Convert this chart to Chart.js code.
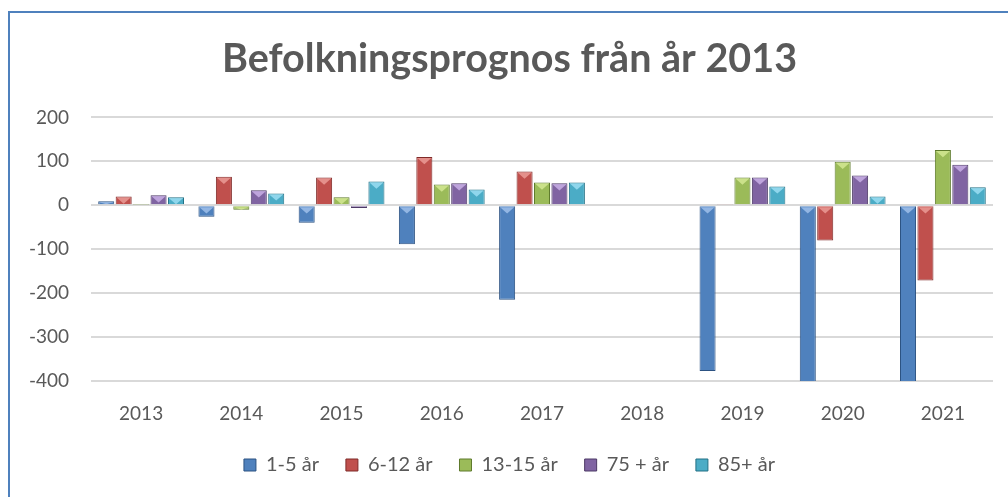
<!DOCTYPE html>
<html>
<head>
<meta charset="utf-8">
<script src="https://cdn.jsdelivr.net/npm/chart.js@4/dist/chart.umd.min.js"></script>
<style>
    html, body { margin: 0; padding: 0; background: #fff; }
    #wrap { position: relative; width: 1008px; height: 497px; overflow: hidden; }
    #frame {
        position: absolute; left: 8px; top: 11px; width: 1100px; height: 600px;
        border-left: 2px solid #4F81BD; border-top: 2px solid #4F81BD;
    }
    canvas { position: absolute; left: 0; top: 0; }
</style>
</head>
<body>
<div id="wrap">
    <div id="frame"></div>
    <canvas id="chart" width="1040" height="497"></canvas>
</div>
<script>
// =============================================================
// DATA
// =============================================================
const years     = ["2013", "2014", "2015", "2016", "2017", "2018", "2019", "2020", "2021"];
const age1to5   = [9, -26, -40, -89, -215, null, -377, -450, -460];
const age6to12  = [20, 65, 63, 110, 77, null, 3, -80, -171];
const age13to15 = [1, -10, 18, 47, 52, null, 63, 99, 126];
const age75     = [23, 34, -6, 50, 50, null, 63, 68, 92];
const age85     = [18, 27, 54, 36, 52, null, 43, 20, 41];
const yTicks    = [200, 100, 0, -100, -200, -300, -400];

const FONT = "Lato, 'Liberation Sans', sans-serif";
const GRAY = "#595959";

function series(label, data, color, edge, light) {
    return {
        label: label,
        data: data,
        backgroundColor: color,
        borderColor: edge,
        borderWidth: 1,
        bevel: light,
        categoryPercentage: 0.87,
        barPercentage: 0.92
    };
}

// light "V" bevel at the top of every bar, like the Excel look
const bevelPlugin = {
    id: 'bevel',
    afterDatasetsDraw(chart) {
        const ctx  = chart.ctx;
        const area = chart.chartArea;
        ctx.save();
        ctx.beginPath();
        ctx.rect(area.left, area.top, area.right - area.left, area.bottom - area.top);
        ctx.clip();
        chart.data.datasets.forEach((ds, i) => {
            chart.getDatasetMeta(i).data.forEach(bar => {
                if (bar.skip || isNaN(bar.y)) return;
                const top = Math.max(Math.min(bar.y, bar.base), area.top);
                const h   = Math.min(Math.abs(bar.base - bar.y), bar.width * 0.45);
                if (h < 2) return;
                const l = bar.x - bar.width / 2 + 1, r = bar.x + bar.width / 2 - 1;
                ctx.fillStyle = ds.bevel;
                ctx.beginPath();
                ctx.moveTo(l, top + 1);
                ctx.lineTo(r, top + 1);
                ctx.lineTo(bar.x, top + h);
                ctx.closePath();
                ctx.fill();
            });
        });
        ctx.restore();
    }
};

// =============================================================
// CHART
// =============================================================
new Chart(document.getElementById("chart"), {
    type: 'bar',
    data: {
        labels: years,
        datasets: [
            series("1-5 år",   age1to5,   "#4F81BD", "#2C5282", "rgba(170,200,240,0.75)"),
            series("6-12 år",  age6to12,  "#C0504D", "#7F2A28", "rgba(240,165,160,0.75)"),
            series("13-15 år", age13to15, "#9BBB59", "#5E7A2C", "rgba(215,235,150,0.8)"),
            series("75 + år",  age75,     "#8064A2", "#4D3A66", "rgba(205,180,235,0.8)"),
            series("85+ år",   age85,     "#4BACC6", "#237085", "rgba(160,225,245,0.8)")
        ]
    },
    plugins: [bevelPlugin],
    options: {
        responsive: false,
        animation: false,
        layout: { padding: { left: 26, right: 47, top: 0, bottom: 12 } },
        plugins: {
            title: {
                display: true,
                text: "Befolkningsprognos från år 2013",
                color: GRAY,
                font: { family: FONT, size: 39.5, weight: 'bold' },
                padding: { top: 36, bottom: 34 }
            },
            legend: {
                position: 'bottom',
                labels: {
                    color: GRAY,
                    font: { family: FONT, size: 20 },
                    boxWidth: 12,
                    boxHeight: 12,
                    padding: 27
                }
            },
            tooltip: { enabled: false }
        },
        scales: {
            x: {
                grid: { display: false },
                border: { display: false },
                ticks: { color: GRAY, font: { family: FONT, size: 19 }, padding: 13 },
                afterFit: (s) => { s.height = 47; }
            },
            y: {
                min: -400,
                max: 200,
                afterBuildTicks: (s) => { s.ticks = yTicks.map(v => ({ value: v })); },
                grid: { color: "#D9D9D9", lineWidth: 2, drawTicks: false },
                border: { display: false },
                ticks: { color: GRAY, font: { family: FONT, size: 19 }, padding: 22 },
                afterFit: (s) => { s.width = 65; }
            }
        }
    }
});
</script>
</body>
</html>
